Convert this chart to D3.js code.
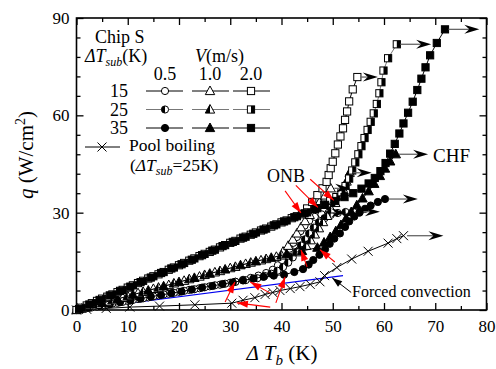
<!DOCTYPE html>
<html>
<head>
<meta charset="utf-8">
<script src="https://cdn.jsdelivr.net/npm/d3@7/dist/d3.min.js"></script>
<style>
  body { margin: 0; background: #fff; }
  svg text { font-family: "Liberation Serif", Tinos, "Times New Roman", "DejaVu Serif", serif; fill: #000; }
</style>
</head>
<body>
<svg id="chart" width="496" height="369"></svg>
<script>
// axis ticks
const xMajor = [0, 10, 20, 30, 40, 50, 60, 70, 80];
const xMinor = [5, 15, 25, 35, 45, 55, 65, 75];
const yMajor = [0, 30, 60, 90];
const yMinor = [6, 12, 18, 24, 36, 42, 48, 54, 66, 72, 78, 84];

// V = 0.5 m/s (circles), [dTb, q]
const ci15 = [[0,0],[2,0.6],[4,1.1],[6,1.7],[8,2.2],[10,2.8],[12,3.4],[14,3.9],[16,4.5],[18,5.0],[20,5.6],[22,6.2],[24,6.7],[26,7.3],[28,7.8],[30,8.4],[31,8.7],
  [32.5,9.3],[34,9.9],[35.5,10.6],[37,11.4],[38.3,12.4],[39.3,13.8],[40.1,15.4],[40.9,17.1],[41.6,18.9],[42.3,20.7],[43,22.5],[43.7,24.3],[44.5,26],[45.4,27.5],[46.5,28.7],[47.8,29.5],[49.2,30]];
const ci25 = [[1,0.3],[3,0.8],[5,1.4],[7,2.0],[9,2.5],[11,3.1],[13,3.6],[15,4.2],[17,4.8],[19,5.3],[21,5.9],[23,6.4],[25,7.0],[27,7.6],[29,8.1],[31,8.7],[33,9.2],
  [35.3,9.8],[36.7,10.5],[38,11.2],[39.2,12.1],[40.3,13.2],[41.3,14.6],[42.2,16.2],[43,18],[43.8,19.9],[44.6,21.8],[45.4,23.6],[46.3,25.4],[47.3,27],[48.4,28.3],[49.6,29.3],[51,29.9],[52.5,30.2],[54,30.3],[55.3,30.3]];
const ci35 = [[0.5,0.1],[2.5,0.7],[4.5,1.3],[6.5,1.8],[8.5,2.4],[10.5,2.9],[12.5,3.5],[14.5,4.1],[16.5,4.6],[18.5,5.2],[20.5,5.7],[22.5,6.3],[24.5,6.9],[26.5,7.4],[28.5,8.0],[30.5,8.5],[32.5,9.1],[34.5,9.7],[36.5,10.2],[38.5,10.6],[40.5,10.9],
  [42.5,11.7],[44.2,12.6],[45.3,14],[46.2,15.4],[47.4,17],[48.5,18.7],[49.4,20.4],[50.3,22],[51.4,23.6],[52.4,25.6],[53.2,27.3],[54.2,28.8],[55.2,30],[56.3,31.2],[57.4,32.2],[58.8,33.3],[60.2,34.2]];

// V = 1.0 m/s (triangles)
const tr15 = [[0,0],[3,1.3],[6,2.6],[9,3.9],[12,5.2],[15,6.5],[18,7.7],[21,9.0],[24,10.3],[27,11.6],[30,12.9],[33,14.2],[36,15.3],[39,16.4],
  [40.3,18],[41.3,19.8],[42.2,21.7],[43,23.6],[43.8,25.5],[44.6,27.4],[45.5,29.3],[46.4,31.2],[47.4,33.2],[48.5,35.3],[49.6,37.5]];
const tr25 = [[1,0.4],[4,1.7],[7,3.0],[10,4.3],[13,5.6],[16,6.9],[19,8.2],[22,9.5],[25,10.8],[28,12.0],[31,13.3],[34,14.6],[37,15.7],[40,16.8],[43,17.8],
  [44.8,19.8],[45.7,21.5],[46.5,23.3],[47.3,25.2],[48.1,27.1],[48.9,29],[49.7,31],[50.5,33],[51.3,35.1],[52,37.3],[52.7,39.6],[53.3,42.3]];
const tr35 = [[2,0.9],[5,2.2],[8,3.4],[11,4.7],[14,6.0],[17,7.3],[20,8.6],[23,9.9],[26,11.2],[29,12.5],[32,13.8],[35,15.0],[38,16.1],[41,17.2],[44,18.2],[47,19.2],
  [48.3,20.8],[49.5,22.5],[50.6,24.3],[51.6,26.2],[52.6,28.2],[53.6,30.2],[54.7,32.3],[55.8,34.4],[57,36.6],[58.1,38.9],[59.2,41.3],[60.2,43.6],[61.2,45.8],[62.3,48]];

// V = 2.0 m/s (squares)
const sq15 = [[0,0],[2,1.4],[4,2.8],[6,4.1],[8,5.5],[10,6.9],[12,8.3],[14,9.7],[16,11.0],[18,12.4],[20,13.8],[22,15.2],[24,16.6],[26,17.9],[28,19.3],[30,20.7],[32,22.0],[34,23.2],[36,24.5],[38,25.7],[40,27.0],[42,28.3],[44,29.5],
  [45,31.3],[46,33.3],[47,35.4],[48,37.5],[48.8,39.5],[49.2,41.6],[49.6,43.7],[50,45.7],[50.5,48.3],[51,51],[51.5,53.5],[52,56],[52.4,58.6],[52.8,61.2],[53.2,64.3],[53.9,68],[54.8,71.8]];
const sq25 = [[1,0.7],[3,2.1],[5,3.5],[7,4.8],[9,6.2],[11,7.6],[13,9.0],[15,10.4],[17,11.7],[19,13.1],[21,14.5],[23,15.9],[25,17.3],[27,18.6],[29,20.0],[31,21.3],[33,22.6],[35,23.9],[37,25.1],[39,26.4],[41,27.6],[43,28.9],[45,30.1],[47,31.4],
  [48.3,32.5],[49.5,33.6],[50.7,34.8],[51.7,36.3],[52.5,38.2],[53.2,40.5],[53.8,43],[54.4,45.5],[55,48],[55.6,50.5],[56.2,53],[56.8,55.5],[57.4,58],[58,60.6],[58.6,63.5],[59.1,66.8],[59.5,70.2],[59.9,73.8],[60.8,77.6],[62.5,81.9]];
const sq35 = [[0.5,0.3],[2.5,1.7],[4.5,3.1],[6.5,4.5],[8.5,5.9],[10.5,7.2],[12.5,8.6],[14.5,10.0],[16.5,11.4],[18.5,12.8],[20.5,14.1],[22.5,15.5],[24.5,16.9],[26.5,18.3],[28.5,19.7],[30.5,21.0],[32.5,22.3],[34.5,23.5],[36.5,24.8],[38.5,26.1],[40.5,27.3],[42.5,28.6],[44.5,29.8],[46.5,31.1],[48.5,32.4],[50.5,33.6],
  [52.3,34.8],[54,36],[55.6,37.4],[57,39],[58.2,40.7],[59.3,42.8],[60.3,45.3],[61.2,48.2],[62.1,51.2],[63,54.4],[63.8,57.5],[64.7,60.8],[65.6,64.2],[66.5,67.8],[67.3,71.3],[68.1,74.8],[69,78.5],[70.3,82.3],[71.9,86.5]];

// pool boiling, dTsub = 25 K
const pool = [[0,0],[2,0.2],[5.8,0.5],[10.4,0.9],[16.2,1.2],[23.1,1.6],[30.3,2.1],[32.5,3.0],[34.8,3.8],[36.8,4.8],[38.3,5.4],[39.7,6],[41.7,6.6],[43.6,7.2],[45.6,7.9],[47.5,8.7],
  [48.4,10.6],[50.8,13.1],[53.7,15.7],[56.9,18.1],[60.8,20.6],[62.5,22],[63.8,22.9]];

// forced convection correlation (blue line)
const forced = [[0,0],[52,10.6]];

// CHF arrows: [from dTb, q, to dTb]
const chfArrows = [[55.4,71.8,58.8],[63.2,81.9,69.2],[72.6,86.5,78.6],[62.9,48,68.6],[60.9,34.2,66.6],
  [64.5,22.9,71.6],[56,30.3,59.2],[54,42.3,57.6],[50.3,37.5,53.4],[49.9,30,52.6]];

// ONB arrows: [tail dTb, tail q, head dTb, head q]
const onbArrows = [[40.7,36.7,43.8,29.9],[42.8,38.4,47.1,31.6],[45.6,40.3,50.2,33.8],[45,13.3,43.8,18.5],[50.4,14.8,47.5,18.6],
  [29,2.5,30.9,8.6],[37.8,0.9,31.3,2.2],[37.8,5.2,33.9,8.6],[38.9,2.2,40.7,10.2]];

const svg = d3.select('#chart');
const x = d3.scaleLinear().domain([0, 80]).range([76.5, 486.5]);
const y = d3.scaleLinear().domain([0, 90]).range([310, 18]);

// axes, ticks point inside
function styleAxis(g) {
  g.attr('font-family', null).attr('font-size', null);
  g.select('.domain').remove();
  g.selectAll('line').attr('stroke', '#000').attr('stroke-width', 1.3);
  g.selectAll('text').attr('font-size', 17).attr('fill', '#000');
}
svg.append('g').attr('transform', 'translate(0,310)')
  .call(d3.axisBottom(x).tickValues(xMajor).tickSize(-7).tickPadding(10).tickFormat(d3.format('d'))).call(styleAxis);
svg.append('g').attr('transform', 'translate(0,310)')
  .call(d3.axisBottom(x).tickValues(xMinor).tickSize(-4).tickFormat('')).call(styleAxis);
svg.append('g').attr('transform', 'translate(0,18)')
  .call(d3.axisTop(x).tickValues(xMajor).tickSize(-7).tickFormat('')).call(styleAxis);
svg.append('g').attr('transform', 'translate(0,18)')
  .call(d3.axisTop(x).tickValues(xMinor).tickSize(-4).tickFormat('')).call(styleAxis);
svg.append('g').attr('transform', 'translate(76.5,0)')
  .call(d3.axisLeft(y).tickValues(yMajor).tickSize(-7).tickPadding(7).tickFormat(d3.format('d'))).call(styleAxis);
svg.append('g').attr('transform', 'translate(76.5,0)')
  .call(d3.axisLeft(y).tickValues(yMinor).tickSize(-4).tickFormat('')).call(styleAxis);
svg.append('g').attr('transform', 'translate(486.5,0)')
  .call(d3.axisRight(y).tickValues(yMajor).tickSize(-7).tickFormat('')).call(styleAxis);
svg.append('g').attr('transform', 'translate(486.5,0)')
  .call(d3.axisRight(y).tickValues(yMinor).tickSize(-4).tickFormat('')).call(styleAxis);

svg.append('rect')
  .attr('x', x(0)).attr('y', y(90))
  .attr('width', x(80) - x(0)).attr('height', y(0) - y(90))
  .attr('fill', 'none').attr('stroke', '#000').attr('stroke-width', 1.6);

// axis titles
svg.append('text')
  .attr('x', 282).attr('y', 360).attr('text-anchor', 'middle').attr('font-size', 21)
  .html('<tspan font-style="italic">Δ T</tspan><tspan font-style="italic" font-size="15" dy="5">b</tspan><tspan dy="-5"> (K)</tspan>');
svg.append('text')
  .attr('transform', 'translate(33,155) rotate(-90)').attr('text-anchor', 'middle').attr('font-size', 21)
  .html('<tspan font-style="italic">q</tspan> (W/cm<tspan font-size="14" dy="-8">2</tspan><tspan dy="8">)</tspan>');

// markers
function drawMarker(g, shape, fill, px, py) {
  const m = g.append('g').attr('transform', `translate(${px},${py})`);
  const face = fill === 'full' ? '#000' : '#fff';
  if (shape === 'circle') {
    const r = 3.6;
    m.append('circle').attr('r', r).attr('fill', face).attr('stroke', '#000').attr('stroke-width', 1);
    if (fill === 'half') m.append('path').attr('d', `M0,${-r}A${r},${r} 0 0 0 0,${r}Z`).attr('fill', '#000');
  } else if (shape === 'tri') {
    m.append('path').attr('d', 'M0,-5L4.7,3.6L-4.7,3.6Z').attr('fill', face).attr('stroke', '#000').attr('stroke-width', 1);
    if (fill === 'half') m.append('path').attr('d', 'M0,-5L0,3.6L-4.7,3.6Z').attr('fill', '#000');
  } else if (shape === 'square') {
    m.append('rect').attr('x', -3.6).attr('y', -3.6).attr('width', 7.2).attr('height', 7.2)
      .attr('fill', face).attr('stroke', '#000').attr('stroke-width', 1);
    if (fill === 'half') m.append('rect').attr('x', 0).attr('y', -3.6).attr('width', 3.6).attr('height', 7.2).attr('fill', '#000');
  } else if (shape === 'cross') {
    m.append('path').attr('d', 'M-4.5,-4.5L4.5,4.5M-4.5,4.5L4.5,-4.5').attr('stroke', '#000').attr('stroke-width', 1);
  }
}

const line = d3.line().x(d => x(d[0])).y(d => y(d[1]));
const series = [
  { pts: pool, shape: 'cross', fill: 'open', color: '#000' },
  { pts: ci15, shape: 'circle', fill: 'open', color: '#000' },
  { pts: ci25, shape: 'circle', fill: 'half', color: '#777' },
  { pts: ci35, shape: 'circle', fill: 'full', color: '#000' },
  { pts: tr15, shape: 'tri', fill: 'open', color: '#000' },
  { pts: tr25, shape: 'tri', fill: 'half', color: '#777' },
  { pts: tr35, shape: 'tri', fill: 'full', color: '#000' },
  { pts: sq15, shape: 'square', fill: 'open', color: '#000' },
  { pts: sq25, shape: 'square', fill: 'half', color: '#777' },
  { pts: sq35, shape: 'square', fill: 'full', color: '#000' }
];

// blue forced convection line
svg.append('path').datum(forced).attr('d', line)
  .attr('fill', 'none').attr('stroke', '#0000ee').attr('stroke-width', 1.2);

const plot = svg.append('g');
series.forEach(s => {
  plot.append('path').datum(s.pts).attr('d', line)
    .attr('fill', 'none').attr('stroke', s.color).attr('stroke-width', 1);
  s.pts.forEach(d => drawMarker(plot, s.shape, s.fill, x(d[0]), y(d[1])));
});

// CHF arrows (grey shaft, black barbed head)
chfArrows.forEach(a => {
  const x0 = x(a[0]), x1 = x(a[2]), yy = y(a[1]);
  svg.append('line').attr('x1', x0).attr('y1', yy).attr('x2', x1 - 8).attr('y2', yy)
    .attr('stroke', '#666').attr('stroke-width', 1.3);
  svg.append('path').attr('transform', `translate(${x1},${yy})`)
    .attr('d', 'M0,0L-15,-4.5L-10,0L-15,4.5Z').attr('fill', '#000');
});

// ONB arrows (red)
onbArrows.forEach(a => {
  const x0 = x(a[0]), y0 = y(a[1]), x1 = x(a[2]), y1 = y(a[3]);
  const ang = Math.atan2(y1 - y0, x1 - x0) * 180 / Math.PI;
  svg.append('line').attr('x1', x0).attr('y1', y0).attr('x2', x1).attr('y2', y1)
    .attr('stroke', '#ff0000').attr('stroke-width', 1.1);
  svg.append('path').attr('transform', `translate(${x1},${y1}) rotate(${ang})`)
    .attr('d', 'M0,0L-11,-3.6L-11,3.6Z').attr('fill', '#ff0000');
});

// annotations
svg.append('text').attr('x', 267).attr('y', 182).attr('font-size', 18).text('ONB');
svg.append('text').attr('x', 433).attr('y', 162).attr('font-size', 19).text('CHF');
svg.append('text').attr('x', 352).attr('y', 297).attr('font-size', 16).text('Forced convection');
{
  const tx = x(53.6), ty = y(5.4), hx = x(49.9), hy = y(9.9);
  const ang = Math.atan2(hy - ty, hx - tx) * 180 / Math.PI;
  svg.append('line').attr('x1', tx).attr('y1', ty).attr('x2', hx).attr('y2', hy)
    .attr('stroke', '#000').attr('stroke-width', 1);
  svg.append('path').attr('transform', `translate(${hx},${hy}) rotate(${ang})`)
    .attr('d', 'M0,0L-10,-3.5L-10,3.5Z').attr('fill', '#000');
}

// legend
const lg = svg.append('g');
lg.append('text').attr('x', 95).attr('y', 43).attr('font-size', 18).text('Chip S');
lg.append('text').attr('x', 85).attr('y', 62).attr('font-size', 18)
  .html('<tspan font-style="italic">ΔT</tspan><tspan font-style="italic" font-size="12" dy="4">sub</tspan><tspan dy="-4">(K)</tspan>');
lg.append('text').attr('x', 195).attr('y', 62).attr('font-size', 18)
  .html('<tspan font-style="italic">V</tspan>(m/s)');
const legCols = [
  { label: '0.5', shape: 'circle', cx: 165, x0: 146, x1: 183 },
  { label: '1.0', shape: 'tri', cx: 210, x0: 192, x1: 229 },
  { label: '2.0', shape: 'square', cx: 251, x0: 233, x1: 270 }
];
const legRows = [
  { label: '15', fill: 'open', color: '#000', cy: 91 },
  { label: '25', fill: 'half', color: '#777', cy: 109.5 },
  { label: '35', fill: 'full', color: '#000', cy: 128 }
];
legCols.forEach(c => {
  lg.append('text').attr('x', c.cx).attr('y', 80).attr('text-anchor', 'middle').attr('font-size', 18).text(c.label);
});
legRows.forEach(r => {
  lg.append('text').attr('x', 128).attr('y', r.cy + 6).attr('text-anchor', 'end').attr('font-size', 18).text(r.label);
  legCols.forEach(c => {
    lg.append('line').attr('x1', c.x0).attr('x2', c.x1).attr('y1', r.cy).attr('y2', r.cy)
      .attr('stroke', r.color).attr('stroke-width', 1);
    drawMarker(lg, c.shape, r.fill, c.cx, r.cy);
  });
});
lg.append('line').attr('x1', 85).attr('x2', 120).attr('y1', 147).attr('y2', 147).attr('stroke', '#000').attr('stroke-width', 1);
drawMarker(lg, 'cross', 'open', 102, 147);
lg.append('text').attr('x', 129).attr('y', 151).attr('font-size', 17.5).text('Pool boiling');
lg.append('text').attr('x', 130).attr('y', 171).attr('font-size', 17.5)
  .html('(<tspan font-style="italic">ΔT</tspan><tspan font-style="italic" font-size="12" dy="4">sub</tspan><tspan dy="-4">=25K)</tspan>');
</script>
</body>
</html>
